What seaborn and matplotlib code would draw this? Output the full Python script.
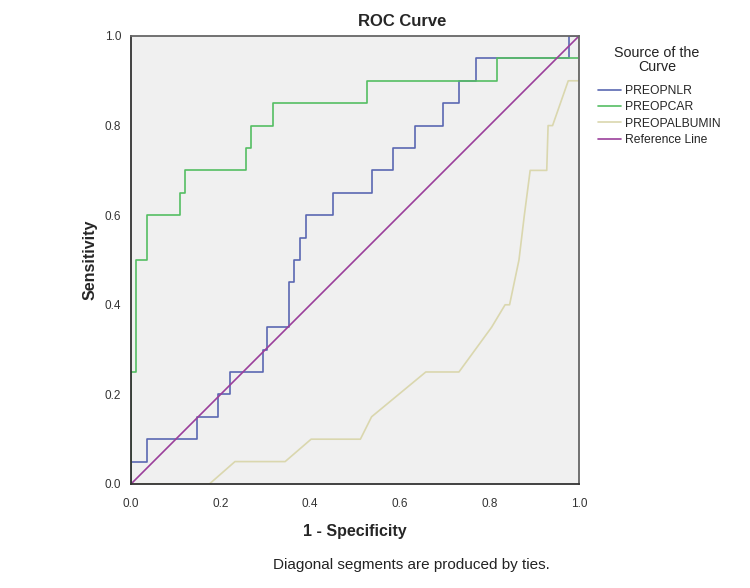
import numpy as np
import pandas as pd
import matplotlib
matplotlib.use("Agg")
import matplotlib.pyplot as plt
import seaborn as sns

# curvas ROC (1 - especificidade, sensibilidade)
nlr_fpr = [0, 0, 0.035, 0.035, 0.147, 0.147, 0.195, 0.195, 0.22, 0.22, 0.294, 0.294,
           0.304, 0.304, 0.353, 0.353, 0.364, 0.364, 0.377, 0.377, 0.39, 0.39, 0.451, 0.451,
           0.537, 0.537, 0.585, 0.585, 0.634, 0.634, 0.696, 0.696, 0.732, 0.732, 0.769, 0.769,
           0.978, 0.978, 1.0]
nlr_tpr = [0, 0.05, 0.05, 0.10, 0.10, 0.15, 0.15, 0.20, 0.20, 0.25, 0.25, 0.30,
           0.30, 0.35, 0.35, 0.45, 0.45, 0.50, 0.50, 0.55, 0.55, 0.60, 0.60, 0.65,
           0.65, 0.70, 0.70, 0.75, 0.75, 0.80, 0.80, 0.85, 0.85, 0.90, 0.90, 0.95,
           0.95, 1.0, 1.0]

car_fpr = [0, 0, 0.011, 0.011, 0.035, 0.035, 0.109, 0.109, 0.121, 0.121, 0.256, 0.256,
           0.268, 0.268, 0.318, 0.318, 0.526, 0.526, 0.818, 0.818, 1.0, 1.0]
car_tpr = [0, 0.25, 0.25, 0.50, 0.50, 0.60, 0.60, 0.65, 0.65, 0.70, 0.70, 0.75,
           0.75, 0.80, 0.80, 0.85, 0.85, 0.90, 0.90, 0.95, 0.95, 1.0]

alb_fpr = [0, 0.175, 0.232, 0.344, 0.402, 0.512, 0.537, 0.658, 0.732, 0.805, 0.835,
           0.845, 0.866, 0.878, 0.891, 0.928, 0.931, 0.941, 0.976, 1.0, 1.0]
alb_tpr = [0, 0, 0.05, 0.05, 0.10, 0.10, 0.15, 0.25, 0.25, 0.35, 0.40,
           0.40, 0.50, 0.60, 0.70, 0.70, 0.80, 0.80, 0.90, 0.90, 1.0]

ref_x = [0, 1]
ref_y = [0, 1]

series = ["PREOPNLR", "PREOPCAR", "PREOPALBUMIN", "Reference Line"]
cores = ["#5A68B2", "#55BE63", "#DAD7AE", "#9B3F9B"]

frames = []
for nome, xs, ys in zip(series, [nlr_fpr, car_fpr, alb_fpr, ref_x], [nlr_tpr, car_tpr, alb_tpr, ref_y]):
    d = pd.DataFrame({"fpr": xs, "tpr": ys})
    d["curva"] = nome
    frames.append(d)
df = pd.concat(frames, ignore_index=True)

sns.set_style("white")
plt.rcParams["font.family"] = ["Liberation Sans", "DejaVu Sans"]

fig = plt.figure(figsize=(7.5, 5.88), dpi=100)
ax = fig.add_axes([0.1747, 0.1769, 0.5973, 0.7619])
ax.set_facecolor("#F0F0F0")

for nome, cor in zip(series, cores):
    sub = df[df["curva"] == nome]
    sns.lineplot(data=sub, x="fpr", y="tpr", sort=False, estimator=None,
                 color=cor, linewidth=1.2, label=nome, ax=ax)

ax.set_xlim(0, 1)
ax.set_ylim(0, 1)
ticks = [0.0, 0.2, 0.4, 0.6, 0.8, 1.0]
ax.set_xticks(ticks)
ax.set_yticks(ticks)
ax.set_xticklabels([f"{t:.1f}" for t in ticks])
ax.set_yticklabels([f"{t:.1f}" for t in ticks])
ax.tick_params(direction="out", length=5, width=1.2, color="#444444",
               labelsize=8.5, labelcolor="#333333", pad=2)
ax.tick_params(axis="x", pad=5)
for s in ax.spines.values():
    s.set_color("#666666")
    s.set_linewidth(1.3)
ax.spines["left"].set_color("#333333")
ax.spines["bottom"].set_color("#333333")

ax.set_xlabel("1 - Specificity", fontsize=11.5, fontweight="bold", labelpad=10)
ax.set_ylabel("Sensitivity", fontsize=11.5, fontweight="bold", labelpad=5)

fig.text(0.536, 0.963, "ROC Curve", ha="center", va="center", fontsize=12, fontweight="bold")
fig.text(0.548, 1 - 565 / 588, "Diagonal segments are produced by ties.", ha="center", va="center",
         fontsize=11, color="#222222")

# titulo da legenda separado (centralizado, como no SPSS)
fig.text(0.876, 1 - 60 / 588, "Source of the\nCurve", ha="center", va="center",
         fontsize=10.3, linespacing=1.05, multialignment="center", color="#222222")

leg = ax.legend(loc="upper left", bbox_to_anchor=(598 / 750, 1 - 85 / 588),
                bbox_transform=fig.transFigure, frameon=False, fontsize=8.7,
                handlelength=1.9, handletextpad=0.3, labelspacing=0.36,
                borderaxespad=0, borderpad=0)

fig.savefig("out.png", dpi=100)
